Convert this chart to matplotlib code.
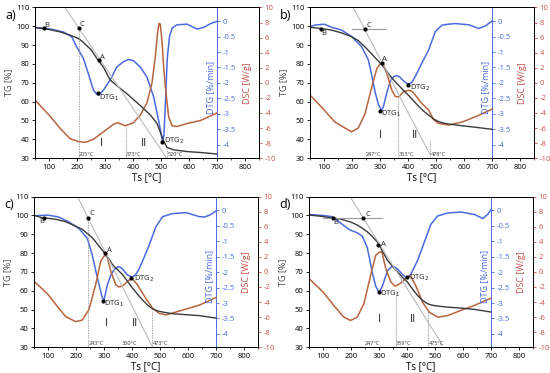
import matplotlib
matplotlib.use("Agg")
from matplotlib import pyplot as plt
from matplotlib.ticker import MultipleLocator

plt.rcParams['font.family'] = ['Open Sans', 'DejaVu Sans']
plt.rcParams['axes.unicode_minus'] = False

# ---- panel a ----
tg_a_t = [50, 80, 100, 140, 180, 205, 222, 250, 270, 295, 318, 354, 377, 425, 461, 485, 497, 509, 521, 545, 593, 641, 700]
tg_a = [99.3, 98.8, 98.3, 97, 95, 93.5, 91.5, 87.5, 83, 78, 71.5, 67, 64.3, 58, 53, 48.5, 44, 39, 35.7, 34.4, 33.5, 33, 32.2]
dtg_a_t = [50, 100, 150, 180, 198, 222, 240, 258, 270, 278, 294, 318, 342, 366, 383, 401, 425, 449, 473, 491, 497, 505, 510, 516, 522, 530, 540, 557, 593, 629, 653, 677, 700]
dtg_a = [-0.21, -0.25, -0.35, -0.5, -0.83, -1.2, -1.7, -2.23, -2.37, -2.39, -2.23, -1.9, -1.48, -1.31, -1.24, -1.28, -1.48, -1.8, -2.44, -3.2, -3.5, -3.88, -3.7, -2.5, -1.2, -0.5, -0.22, -0.12, -0.1, -0.26, -0.2, -0.08, -0.01]
dsc_a_t = [50, 100, 138, 174, 204, 228, 258, 294, 330, 345, 372, 401, 425, 449, 467, 479, 487, 493, 497, 503, 509, 515, 527, 539, 557, 593, 641, 700]
dsc_a = [-2.3, -4.3, -6.0, -7.4, -7.8, -7.9, -7.5, -6.5, -5.5, -5.3, -5.7, -5.3, -4.3, -2.7, -0.1, 3.4, 6.5, 7.9, 7.8, 5.6, 2.2, -0.5, -4.5, -5.7, -5.8, -5.4, -5.0, -4.0]
tan_a_t = [156, 520]
tan_a = [110, 30]
pts_a = [(80, 99), (205, 99), (278, 82.3), (275, 64.5), (503, 38.5)]
lbl_a = [(84, 99.7, "B"), (210, 100.3, "C"), (283, 82.8, "A"), (278, 61.3, "DTG$_1$"), (509, 38.5, "DTG$_2$"), (282, 36.7, "I"), (428, 36.7, "II")]
temp_a = [205, 373, 520]
vln_a = [(205, 99), (373, 47.1), (520, 35)]

# ---- panel b ----
tg_b_t = [50, 90, 126, 162, 198, 222, 246, 258, 270, 282, 294, 303, 318, 330, 348, 366, 383, 401, 419, 437, 455, 473, 491, 509, 527, 545, 593, 641, 700]
tg_b = [99.5, 98.8, 98, 96.5, 94.5, 92.4, 89, 87.2, 85.3, 83.3, 81.5, 80.1, 77.3, 74.8, 71.5, 68.7, 66, 63.4, 60.5, 57.6, 55, 52.9, 50.8, 49.4, 48.6, 48.1, 47.2, 46.4, 45.3]
dtg_b_t = [50, 67, 100, 126, 162, 198, 234, 258, 270, 282, 294, 305, 312, 324, 336, 348, 360, 372, 385, 400, 413, 425, 437, 455, 473, 497, 521, 545, 569, 617, 653, 677, 700]
dtg_b = [-0.18, -0.13, -0.1, -0.2, -0.29, -0.5, -0.83, -1.26, -1.75, -2.3, -2.7, -2.89, -2.75, -2.3, -1.95, -1.8, -1.76, -1.82, -1.95, -2.04, -1.98, -1.8, -1.58, -1.25, -0.94, -0.34, -0.13, -0.1, -0.08, -0.12, -0.24, -0.15, 0.0]
dsc_b_t = [50, 100, 138, 174, 198, 222, 246, 270, 288, 300, 310, 324, 342, 354, 366, 383, 401, 413, 425, 449, 473, 491, 509, 545, 593, 641, 700]
dsc_b = [-1.65, -3.6, -5.2, -6.0, -6.5, -6.0, -4.1, -0.55, 1.87, 2.5, 2.6, 1.2, -1.0, -1.8, -1.87, -1.2, -1.0, -1.1, -1.6, -2.75, -3.6, -4.9, -5.4, -5.6, -5.2, -4.5, -3.5]
tan_b_t = [204, 478]
tan_b = [110, 32]
hln_b = (198, 318, 98.3)
pts_b = [(90, 98.8), (247, 98.3), (305, 80.5), (300, 55.2), (399, 69)]
lbl_b = [(90, 95.2, "B"), (250, 99.8, "C"), (308, 81.5, "A"), (303, 52.8, "DTG$_1$"), (407, 66.5, "DTG$_2$"), (294, 40.5, "I"), (412, 40.5, "II")]
temp_b = [247, 363, 478]
vln_b = [(363, 62.5), (478, 39.7)]

# ---- panel c ----
tg_c_t = [50, 78, 126, 162, 198, 222, 246, 258, 270, 282, 294, 303, 318, 330, 348, 366, 383, 401, 419, 437, 455, 473, 491, 509, 545, 593, 641, 700]
tg_c = [100, 98.8, 98, 96.7, 94.3, 92.6, 89.7, 88.1, 86, 83.7, 81.5, 79.8, 76.8, 73.9, 71.2, 68.6, 65.2, 61.5, 58.3, 55.2, 52.5, 50.4, 49.3, 48.7, 47.8, 47.3, 46.8, 45.5]
dtg_c_t = [50, 100, 138, 174, 210, 240, 258, 270, 282, 294, 300, 312, 324, 336, 348, 356, 366, 383, 395, 400, 413, 425, 437, 461, 485, 509, 545, 593, 641, 659, 677, 700]
dtg_c = [-0.18, -0.16, -0.22, -0.38, -0.59, -0.91, -1.45, -1.95, -2.4, -2.84, -2.9, -2.41, -2.1, -1.92, -1.84, -1.83, -1.9, -2.09, -2.14, -2.17, -2.08, -1.9, -1.66, -1.13, -0.54, -0.21, -0.11, -0.08, -0.21, -0.22, -0.16, -0.03]
dsc_c_t = [50, 100, 138, 162, 198, 222, 246, 270, 288, 300, 310, 324, 342, 354, 372, 389, 401, 419, 449, 473, 497, 521, 569, 641, 700]
dsc_c = [-1.24, -3.0, -4.8, -5.9, -6.6, -6.4, -5.0, -1.7, 1.42, 2.1, 2.2, 0.1, -1.7, -2.0, -1.7, -1.1, -0.9, -1.7, -3.5, -4.8, -5.5, -5.7, -5.2, -4.4, -3.4]
tan_c_t = [205, 470]
tan_c = [110, 31]
pts_c = [(84, 98.8), (243, 98.8), (303, 79.8), (297, 54.7), (398, 66.8)]
lbl_c = [(67, 96.2, "B"), (248, 100.3, "C"), (312, 80.8, "A"), (300, 52.3, "DTG$_1$"), (407, 65.5, "DTG$_2$"), (303, 41.5, "I"), (398, 41.5, "II")]
temp_c = [243, 360, 473]
vln_c = [(243, 98.8), (473, 49)]

# ---- panel d ----
tg_d_t = [50, 100, 136, 162, 198, 222, 246, 258, 270, 282, 294, 300, 312, 330, 348, 366, 383, 401, 419, 437, 455, 473, 491, 509, 545, 593, 641, 700]
tg_d = [100.2, 99.4, 98.6, 98.1, 96.5, 94.9, 92.6, 91.3, 89.7, 87.8, 85.8, 84.6, 81, 76.2, 73, 70, 67.2, 64.7, 61, 57.6, 55, 53.1, 52.3, 51.9, 51.3, 50.8, 50.1, 48.7]
dtg_d_t = [50, 100, 132, 162, 192, 222, 240, 258, 276, 288, 300, 312, 330, 348, 366, 383, 395, 400, 413, 437, 461, 485, 509, 545, 593, 641, 671, 689, 700]
dtg_d = [-0.14, -0.17, -0.21, -0.41, -0.62, -0.73, -0.84, -1.21, -2.02, -2.45, -2.66, -2.45, -1.96, -1.8, -1.9, -2.07, -2.16, -2.18, -2.08, -1.64, -1.05, -0.46, -0.19, -0.09, -0.06, -0.14, -0.27, -0.13, 0.02]
dsc_d_t = [50, 100, 138, 174, 198, 222, 246, 270, 288, 300, 310, 324, 342, 357, 377, 401, 413, 431, 455, 479, 509, 545, 593, 641, 700]
dsc_d = [-0.9, -2.67, -4.44, -6.0, -6.44, -6.0, -4.2, -0.44, 2.2, 2.6, 2.67, 0.44, -1.33, -1.9, -1.5, -0.67, -0.57, -1.8, -4.0, -5.33, -6.0, -5.8, -5.1, -4.44, -3.5]
tan_d_t = [196, 527]
tan_d = [110, 31]
hln_d = (100, 310, 98.6)
pts_d = [(136, 98.6), (243, 98.6), (297, 84.2), (300, 59.3), (399, 67.3)]
lbl_d = [(138, 95.5, "B"), (252, 99.8, "C"), (308, 84, "A"), (303, 57.5, "DTG$_1$"), (407, 66, "DTG$_2$"), (296, 43.5, "I"), (410, 43.5, "II")]
temp_d = [247, 359, 475]
vln_d = [(359, 59.5), (475, 50.4)]

TG_COL = "#3a3a3a"
DTG_COL = "#4a6be0"
DSC_COL = "#b8653f"
DSC_AX = "#c9504a"


def panel(fig, rect, letter, tg, dtg, dsc, tan, pts, lbls, temps, vlines, hline=None):
    ax = fig.add_axes(rect)
    ax2 = ax.twinx()
    ax3 = ax.twinx()
    ax.set_zorder(ax3.get_zorder() + 1)
    ax.patch.set_visible(False)

    ax.set_xlim(50, 850)
    ax.set_ylim(30, 110)
    ax2.set_ylim(-4.43, 0.44)
    ax3.set_ylim(-10, 10)

    ax.plot(tg[0], tg[1], color=TG_COL, lw=1.0)
    ax2.plot(dtg[0], dtg[1], color=DTG_COL, lw=1.1)
    ax3.plot(dsc[0], dsc[1], color=DSC_COL, lw=1.1)

    # construction lines
    ax.plot(tan[0], tan[1], color="#bbbbbb", lw=0.8)
    if hline:
        ax.plot([hline[0], hline[1]], [hline[2], hline[2]], color="#999999", lw=0.8)
    for x, top in vlines:
        ax.plot([x, x], [30, top], color="#888888", lw=0.6, ls=(0, (1, 1)))
    for x, y in pts:
        ax.plot(x, y, "o", color="black", ms=2)
    for x, y, s in lbls:
        ax.text(x, y, s, fontsize=8 if s in ("I", "II") else 5.5, color="#222222")
    for t in temps:
        ax.text(t + 2, 31, "%d°C" % t, fontsize=4, color="#333333")

    # axes styling
    ax.set_xticks(range(100, 900, 100))
    ax.xaxis.set_minor_locator(MultipleLocator(50))
    ax.set_yticks(range(30, 120, 10))
    ax.tick_params(labelsize=5.5, length=2.5, width=0.6, pad=1.5)
    ax.tick_params(which="minor", length=1.5, width=0.5)
    ax.set_xlabel("Ts [°C]", fontsize=7, labelpad=1)
    ax.set_ylabel("TG [%]", fontsize=6.5, labelpad=2, color="#444444")

    ax2.spines["right"].set_position(("data", 700))
    ax2.spines["right"].set_color(DTG_COL)
    for s in ("left", "top", "bottom"):
        ax2.spines[s].set_visible(False)
    dtg_ticks = [0, -0.5, -1, -1.5, -2, -2.5, -3, -3.5, -4]
    ax2.set_yticks(dtg_ticks)
    ax2.set_yticklabels(["%g" % v for v in dtg_ticks])
    ax2.tick_params(colors=DTG_COL, labelsize=5.5, length=2.5, width=0.6, pad=1.5)

    ax3.spines["right"].set_color(DSC_AX)
    ax3.set_yticks(range(-10, 12, 2))
    ax3.tick_params(colors=DSC_AX, labelsize=5.5, length=2.5, width=0.6, pad=1.5)

    for a in (ax, ax2, ax3):
        for s in a.spines.values():
            s.set_linewidth(0.7)

    ax.text(0.785, 0.47, "DTG [%/min]", rotation=90, color=DTG_COL, fontsize=6.5,
            ha="center", va="center", transform=ax.transAxes)
    ax.text(0.95, 0.5, "DSC [W/g]", rotation=90, color=DSC_AX, fontsize=6.5,
            ha="center", va="center", transform=ax.transAxes)
    fig.text(rect[0] - 0.055, rect[1] + rect[3] - 0.03, letter, fontsize=9)


def main():
    fig = plt.figure(figsize=(5.5, 3.73), dpi=100)
    w, h = 0.407, 0.404
    panel(fig, [0.064, 0.576, w, h], "a)", (tg_a_t, tg_a), (dtg_a_t, dtg_a), (dsc_a_t, dsc_a),
          (tan_a_t, tan_a), pts_a, lbl_a, temp_a, vln_a)
    panel(fig, [0.564, 0.576, w, h], "b)", (tg_b_t, tg_b), (dtg_b_t, dtg_b), (dsc_b_t, dsc_b),
          (tan_b_t, tan_b), pts_b, lbl_b, temp_b, vln_b, hln_b)
    panel(fig, [0.062, 0.069, w, h], "c)", (tg_c_t, tg_c), (dtg_c_t, dtg_c), (dsc_c_t, dsc_c),
          (tan_c_t, tan_c), pts_c, lbl_c, temp_c, vln_c)
    panel(fig, [0.562, 0.069, w, h], "d)", (tg_d_t, tg_d), (dtg_d_t, dtg_d), (dsc_d_t, dsc_d),
          (tan_d_t, tan_d), pts_d, lbl_d, temp_d, vln_d, hln_d)
    fig.savefig("out.png", dpi=100)


if __name__ == "__main__":
    main()
